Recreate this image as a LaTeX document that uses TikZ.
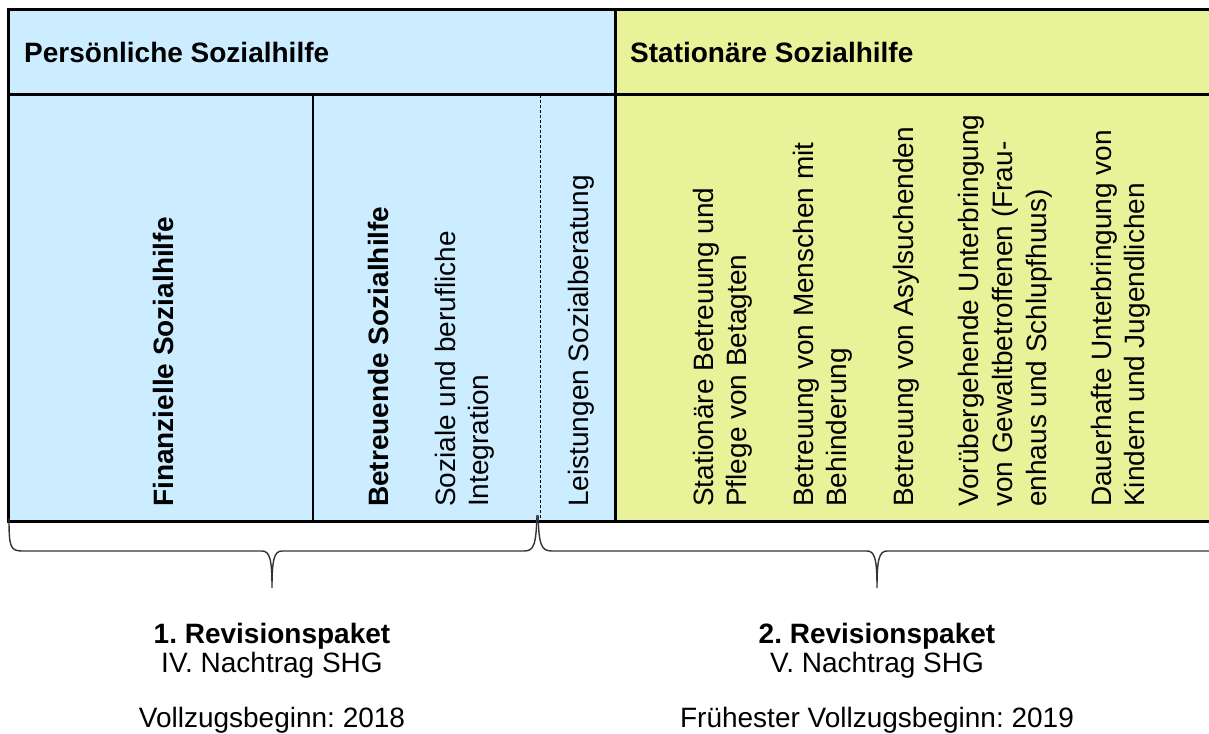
\documentclass[tikz,border=0pt]{standalone}
\usepackage{fontspec}
\setmainfont{Liberation Sans}
\frenchspacing
\definecolor{pblue}{RGB}{204,236,255}
\definecolor{syellow}{RGB}{232,242,153}
\begin{document}
\begin{tikzpicture}[x=1pt,y=-1pt,
  txt/.style={font=\fontsize{28}{33}\selectfont\frenchspacing, inner sep=0pt},
  vt/.style={txt, rotate=90, anchor=base west},
  framel/.style={line width=3pt},
  bracel/.style={line width=1.4pt, draw=black!80},
]
\useasboundingbox (0,0) rectangle (1209,733);
% fills
\fill[pblue] (8,10) rectangle (615,521);
\fill[syellow] (615,10) rectangle (1209,521);
% frame
\draw[framel] (1209,10) -- (8,10) -- (8,521) -- (1209,521);
\draw[framel] (8,95) -- (1209,95);
\draw[framel] (615,10) -- (615,521);
\draw[line width=2pt] (313,95) -- (313,521);
\draw[line width=0.8pt, dash pattern=on 3pt off 2pt] (540,95) -- (540,521);
% headers
\node[txt, anchor=base west] (hp) at (24,63) {\bfseries Persönliche Sozialhilfe};
\node[txt, anchor=base west] (hs) at (630,63) {\bfseries Stationäre Sozialhilfe};
% vertical texts
\node[vt] (fin) at (173,507) {\bfseries Finanzielle Sozialhilfe};
\node[vt] (bet) at (388,507) {\bfseries Betreuende Sozialhilfe};
\node[vt] (soz1) at (455,507) {Soziale und berufliche};
\node[vt] (soz2) at (488,507) {Integration};
\node[vt] (lei) at (588,507) {Leistungen Sozialberatung};
\node[vt] (sta1) at (713,507) {Stationäre Betreuung und};
\node[vt] (sta2) at (746,507) {Pflege von Betagten};
\node[vt] (men1) at (813,507) {Betreuung von Menschen mit};
\node[vt] (men2) at (846,507) {Behinderung};
\node[vt] (asy) at (913,507) {Betreuung von Asylsuchenden};
\node[vt] (vor1) at (978,507) {Vorübergehende Unterbringung};
\node[vt] (vor2) at (1012,507) {von Gewaltbetroffenen (Frau-};
\node[vt] (vor3) at (1046,507) {enhaus und Schlupfhuus)};
\node[vt] (dau1) at (1111,507) {Dauerhafte Unterbringung von};
\node[vt] (dau2) at (1144,507) {Kindern und Jugendlichen};
% braces
\draw[bracel] (9,518) .. controls (9,546) and (10,551) .. (22,551) -- (262,551)
  .. controls (270,551) and (272,560) .. (272,588)
  .. controls (272,560) and (274,551) .. (282,551) -- (524,551)
  .. controls (534,551) and (536,545) .. (537,515);
\draw[bracel] (538,515) .. controls (539,545) and (541,551) .. (552,551) -- (867,551)
  .. controls (875,551) and (877,560) .. (877,588)
  .. controls (877,560) and (879,551) .. (887,551) -- (1209,551);
% bottom texts
\node[txt, anchor=base] (r1) at (272,643) {\bfseries 1. Revisionspaket};
\node[txt, anchor=base] (n1) at (272,672) {IV. Nachtrag SHG};
\node[txt, anchor=base] (v1) at (272,727) {Vollzugsbeginn: 2018};
\node[txt, anchor=base] (r2) at (877,643) {\bfseries 2. Revisionspaket};
\node[txt, anchor=base] (n2) at (877,672) {V. Nachtrag SHG};
\node[txt, anchor=base] (v2) at (877,727) {Frühester Vollzugsbeginn: 2019};
\end{tikzpicture}
\end{document}
